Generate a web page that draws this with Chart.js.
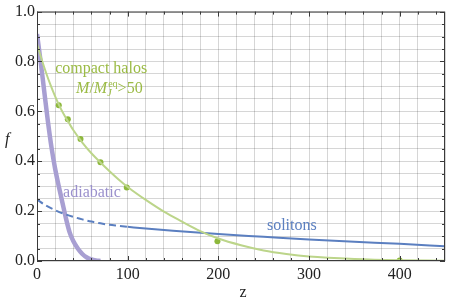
<!DOCTYPE html>
<html>
<head>
<meta charset="utf-8">
<script src="https://cdn.jsdelivr.net/npm/chart.js@4/dist/chart.umd.min.js"></script>
<style>
  html, body { margin: 0; padding: 0; background: #fff; }
  #wrap { width: 449px; height: 303px; }
</style>
</head>
<body>
<div id="wrap"><canvas id="fChart"></canvas></div>
<script>
// compact halos curve (green) and the marked points on it
const haloZ = [0, 5, 10, 15, 20, 25, 30, 35, 40, 50, 60, 70, 80, 90, 100, 120, 140, 160, 180, 200, 225, 250, 275, 300, 350, 400, 450];
const haloF = [0.87, 0.81, 0.755, 0.705, 0.66, 0.62, 0.585, 0.555, 0.525, 0.475, 0.432, 0.395, 0.36, 0.327, 0.297, 0.245, 0.198, 0.158, 0.12, 0.09, 0.063, 0.042, 0.028, 0.018, 0.008, 0.003, 0.001];
const haloDotZ = [24, 34, 48, 70, 99, 199, 400];
const haloDotF = [0.625, 0.568, 0.489, 0.396, 0.295, 0.079, 0.002];

// solitons (blue): dashed part, then solid
const solDashZ = [0, 10, 20, 30, 40, 50, 60, 70, 80, 90, 100];
const solDashF = [0.246, 0.222, 0.204, 0.189, 0.177, 0.167, 0.158, 0.151, 0.145, 0.141, 0.137];
const solZ = [100, 120, 150, 200, 250, 300, 350, 400, 450];
const solF = [0.137, 0.130, 0.121, 0.108, 0.097, 0.086, 0.077, 0.069, 0.059];

// adiabatic (purple band)
const adiaZ = [0, 4, 8, 12, 16, 20, 24, 28, 32, 36, 40, 45, 50, 55, 60, 65, 70];
const adiaF = [0.91, 0.8, 0.68, 0.56, 0.455, 0.37, 0.3, 0.235, 0.17, 0.115, 0.08, 0.05, 0.028, 0.014, 0.006, 0.002, 0.0];

const xMajor = [0, 100, 200, 300, 400];
const yMajor = [0, 0.2, 0.4, 0.6, 0.8, 1.0];

const serif = 'Liberation Serif';

function pts(xs, ys) {
  return xs.map((x, i) => ({ x: x, y: ys[i] }));
}

const isMajor = (v, list) => list.some(m => Math.abs(v - m) < 1e-6);

const decor = {
  id: 'decor',
  afterDraw(chart) {
    const ctx = chart.ctx;
    const a = chart.chartArea;
    const xs = chart.scales.x, ys = chart.scales.y;
    ctx.save();

    // frame
    ctx.strokeStyle = '#3a3a3a';
    ctx.lineWidth = 1;
    ctx.strokeRect(a.left + 0.5, a.top + 0.5, a.right - a.left - 1, a.bottom - a.top - 1);

    // inner ticks
    ctx.beginPath();
    for (let v = 0; v <= 450; v += 20) {
      const px = Math.round(xs.getPixelForValue(v)) + 0.5;
      const len = isMajor(v, xMajor) ? 5 : 3;
      ctx.moveTo(px, a.bottom); ctx.lineTo(px, a.bottom - len);
      ctx.moveTo(px, a.top); ctx.lineTo(px, a.top + len);
    }
    for (let i = 0; i <= 20; i++) {
      const v = i * 0.05;
      const py = Math.round(ys.getPixelForValue(v)) + 0.5;
      const len = isMajor(v, yMajor) ? 5 : 3;
      ctx.moveTo(a.left, py); ctx.lineTo(a.left + len, py);
      ctx.moveTo(a.right, py); ctx.lineTo(a.right - len, py);
    }
    ctx.stroke();

    // axis names
    ctx.fillStyle = '#222';
    ctx.font = 'italic 16px ' + serif;
    ctx.textBaseline = 'alphabetic';
    ctx.fillText('f', 5, 144);
    ctx.font = '16px ' + serif;
    ctx.textAlign = 'center';
    ctx.fillText('z', 243, 297);

    // curve labels
    ctx.textAlign = 'left';
    ctx.fillStyle = '#9bbb45';
    ctx.font = '16px ' + serif;
    ctx.fillText('compact halos', xs.getPixelForValue(20), ys.getPixelForValue(0.753));

    // M/M_J^eq>50, right aligned
    const big = '16px ' + serif, bigI = 'italic 16px ' + serif;
    const small = '10px ' + serif, smallI = 'italic 10px ' + serif;
    ctx.font = bigI; const wM = ctx.measureText('M').width;
    ctx.font = big; const wS = ctx.measureText('/').width;
    ctx.font = small; const wEq = ctx.measureText('eq').width;
    ctx.font = smallI; const wJ = ctx.measureText('J').width;
    ctx.font = big; const wRest = ctx.measureText('>50').width;
    const total = wM + wS + wM + Math.max(wEq, wJ) + 1 + wRest;
    let x = xs.getPixelForValue(116.5) - total;
    const by = ys.getPixelForValue(0.674);
    ctx.font = bigI; ctx.fillText('M', x, by); x += wM;
    ctx.font = big; ctx.fillText('/', x, by); x += wS;
    ctx.font = bigI; ctx.fillText('M', x, by); x += wM;
    ctx.font = small; ctx.fillText('eq', x + 1, by - 6);
    ctx.font = smallI; ctx.fillText('J', x, by + 3);
    x += Math.max(wEq, wJ) + 1;
    ctx.font = big; ctx.fillText('>50', x, by);

    ctx.fillStyle = '#9a90cc';
    ctx.fillText('adiabatic', xs.getPixelForValue(28.8), ys.getPixelForValue(0.255));
    ctx.fillStyle = '#5b7fc0';
    ctx.fillText('solitons', xs.getPixelForValue(253.6), ys.getPixelForValue(0.125));

    ctx.restore();
  }
};

const lineBase = {
  showLine: true,
  pointRadius: 0,
  cubicInterpolationMode: 'monotone',
  fill: false
};

new Chart('fChart', {
  type: 'scatter',
  data: {
    datasets: [
      Object.assign({}, lineBase, {
        data: pts(haloZ, haloF),
        borderColor: '#bcd58a',
        borderWidth: 2
      }),
      {
        data: pts(haloDotZ, haloDotF),
        showLine: false,
        pointRadius: 3,
        pointBackgroundColor: '#8db83c',
        pointBorderWidth: 0
      },
      Object.assign({}, lineBase, {
        data: pts(solDashZ, solDashF),
        borderColor: '#5b7fc0',
        borderWidth: 2,
        borderDash: [7, 4]
      }),
      Object.assign({}, lineBase, {
        data: pts(solZ, solF),
        borderColor: '#5b7fc0',
        borderWidth: 2
      }),
      Object.assign({}, lineBase, {
        data: pts(adiaZ, adiaF),
        borderColor: '#a89fd2',
        borderWidth: 4.5
      })
    ]
  },
  options: {
    responsive: true,
    maintainAspectRatio: false,
    animation: false,
    layout: { padding: { top: 7, right: 2, left: 0, bottom: 0 } },
    plugins: {
      legend: { display: false },
      tooltip: { enabled: false }
    },
    scales: {
      x: {
        type: 'linear',
        min: 0,
        max: 450,
        border: { display: false },
        grid: { color: 'rgba(0,0,0,0.16)', drawTicks: false },
        ticks: {
          stepSize: 20,
          autoSkip: false,
          maxRotation: 0,
          padding: 4,
          color: '#222',
          font: { family: serif, size: 16 },
          callback: v => isMajor(v, xMajor) ? String(v) : ''
        },
        afterFit: s => { s.height = 42; }
      },
      y: {
        type: 'linear',
        min: 0,
        max: 1,
        border: { display: false },
        grid: { color: 'rgba(0,0,0,0.16)', drawTicks: false },
        ticks: {
          stepSize: 0.05,
          autoSkip: false,
          padding: 2,
          color: '#222',
          font: { family: serif, size: 16 },
          callback: v => isMajor(v, yMajor) ? v.toFixed(1) : ''
        },
        afterFit: s => { s.width = 37; }
      }
    }
  },
  plugins: [decor]
});
</script>
</body>
</html>
